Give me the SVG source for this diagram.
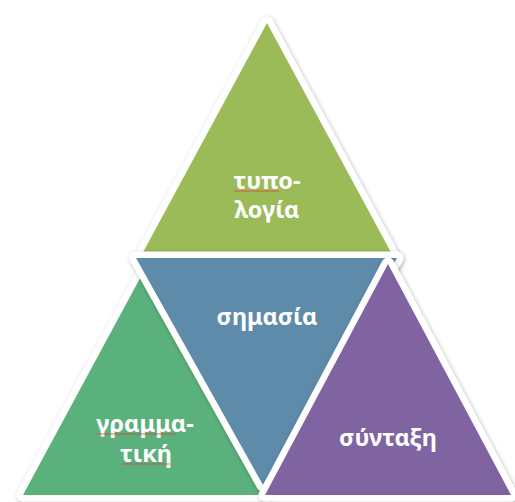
<svg xmlns="http://www.w3.org/2000/svg" width="515" height="502" viewBox="0 0 515 502">
<defs>
<filter id="sh" x="-10%" y="-10%" width="120%" height="120%">
<feDropShadow dx="1" dy="1.5" stdDeviation="2" flood-color="#000" flood-opacity="0.3"/>
</filter>
<style>
.b{stroke:#fff;stroke-width:13;stroke-linejoin:round;fill:#fff}
.t{font-family:"Noto Sans","Open Sans","DejaVu Sans",sans-serif;font-weight:bold;font-size:23.5px;fill:#fff;text-anchor:middle}
.sq{stroke:#e0403a;stroke-width:1;fill:none;opacity:0.8}
</style>
</defs>
<rect width="515" height="502" fill="#fff"/>
<g id="top">
<polygon class="b" filter="url(#sh)" points="267,23 393,256 141,256"/>
<polygon fill="#9BBB59" points="267,23 393,256 141,256"/>
<text class="t" x="267" y="189">τυπο-</text>
<text class="t" x="267" y="218">λογία</text>
<path class="sq" d="M234,191 h45"/>
</g>
<g id="left">
<polygon class="b" filter="url(#sh)" points="145.5,268 268,495 23,495"/>
<polygon fill="#5BB17C" points="145.5,268 268,495 23,495"/>
<text class="t" x="145" y="432">γραμμα-</text>
<text class="t" x="146" y="462">τική</text>
<path class="sq" d="M95,434 h80 M122,464 h48"/>
</g>
<g id="middle">
<polygon class="b" filter="url(#sh)" points="136,258 397,258 263,485"/>
<polygon fill="#5E8BAA" points="136,258 397,258 263,485"/>
<text class="t" x="267" y="325">σημασία</text>
</g>
<g id="right">
<polygon class="b" filter="url(#sh)" points="388,264 511,495 265,495"/>
<polygon fill="#8064A2" points="388,264 511,495 265,495"/>
<text class="t" x="388" y="446">σύνταξη</text>
</g>
<g id="connectors"/>
</svg>
